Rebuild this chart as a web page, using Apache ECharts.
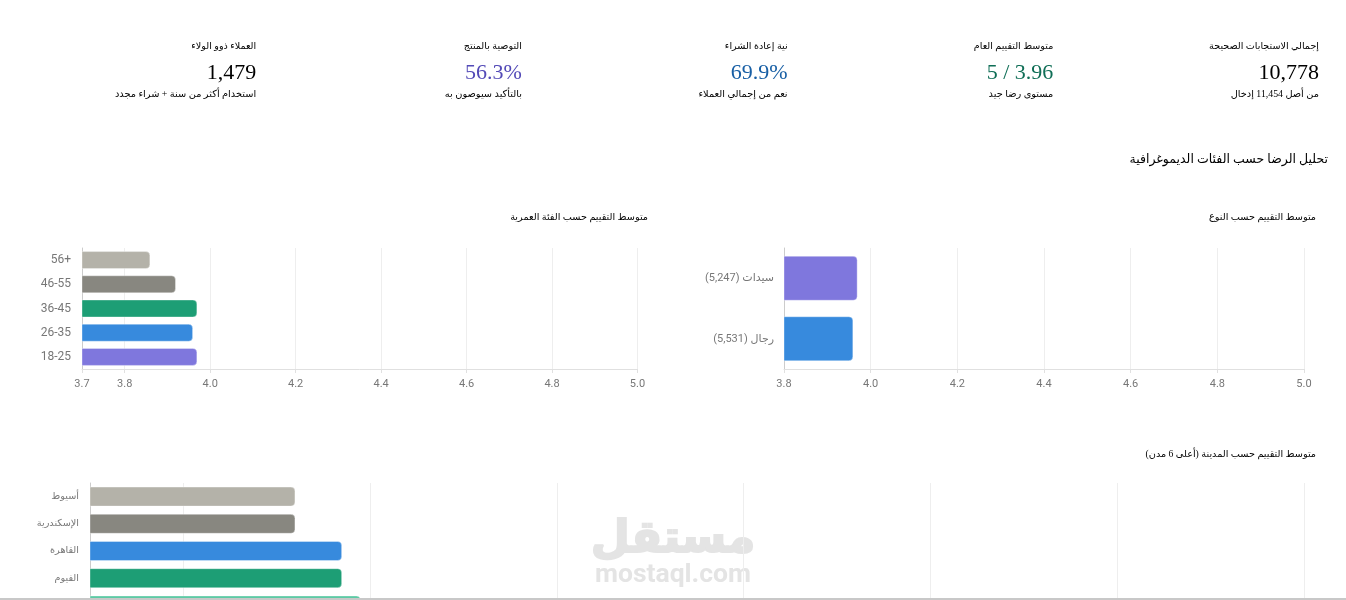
<!DOCTYPE html>
<html dir="rtl">
<head>
<meta charset="utf-8">
<title>تحليل الرضا</title>
<script src="https://cdn.jsdelivr.net/npm/echarts@6/dist/echarts.min.js"></script>
<style>
html, body { margin: 0; padding: 0; background: #fff; overflow: hidden; height: 600px; }
/* taller than the window: the city chart runs past the bottom of the picture */
#main { width: 1346px; height: 660px; }
</style>
</head>
<body>
<div id="main"></div>
<script>
var kpiLabels = ['إجمالي الاستجابات الصحيحة', 'متوسط التقييم العام', 'نية إعادة الشراء', 'التوصية بالمنتج', 'العملاء ذوو الولاء'];
var kpiValues = ['10,778', '3.96 / 5', '69.9%', '56.3%', '1,479'];
var kpiNotes = ['من أصل 11,454 إدخال', 'مستوى رضا جيد', 'نعم من إجمالي العملاء', 'بالتأكيد سيوصون به', 'استخدام أكثر من سنة + شراء مجدد'];
var kpiColors = ['#000000', '#0f6e56', '#185fa5', '#534ab7', '#000000'];

var genderCategories = ['رجال (5,531)', 'سيدات (5,247)'];
var genderValues = [3.96, 3.97];
var genderColors = ['#378add', '#7f77dd'];
var genderTicks = [3.8, 4.0, 4.2, 4.4, 4.6, 4.8, 5.0];

var ageCategories = ['18-25', '26-35', '36-45', '46-55', '+56'];
var ageValues = [3.97, 3.96, 3.97, 3.92, 3.86];
var ageColors = ['#7f77dd', '#378add', '#1d9e75', '#888780', '#b4b2a9'];
var ageTicks = [3.7, 3.8, 4.0, 4.2, 4.4, 4.6, 4.8, 5.0];

// the fifth city is cut off by the bottom of the picture, its name can't be read
var cityCategories = ['', 'الفيوم', 'القاهرة', 'الإسكندرية', 'أسيوط'];
var cityValues = [3.99, 3.97, 3.97, 3.92, 3.92];
var cityColors = ['#5dcaa5', '#1d9e75', '#378add', '#888780', '#b4b2a9'];
var cityTicks = [3.7, 3.8, 4.0, 4.2, 4.4, 4.6, 4.8, 5.0];

var serif = '"Liberation Serif", "DejaVu Sans", serif';
var sans = 'Roboto, "Liberation Sans", "DejaVu Sans", sans-serif';

var chart = echarts.init(document.getElementById('main'), null, { renderer: 'canvas' });

var label = function(text, x, y, size, color) {
	return {
		type: 'text',
		x: x,
		y: y,
		z: 10,
		style: {
			text: text,
			align: 'right',
			verticalAlign: 'middle',
			font: size + 'px ' + serif,
			fill: color || '#000'
		}
	};
};

var graphics = [];
kpiLabels.forEach(function(t, i) {
	var right = 1319 - i * 265.7;
	graphics.push(label(t, right, 46, 9.6));
	graphics.push(label(kpiValues[i], right, 73.5, 22, kpiColors[i]));
	graphics.push(label(kpiNotes[i], right, 94.5, 9.8));
});
graphics.push(label('تحليل الرضا حسب الفئات الديموغرافية', 1328, 160, 12.5));
graphics.push(label('متوسط التقييم حسب النوع', 1316, 217, 9.7));
graphics.push(label('متوسط التقييم حسب الفئة العمرية', 648, 217, 9.7));
graphics.push(label('متوسط التقييم حسب المدينة (أعلى 6 مدن)', 1316, 454, 9.7));

// mostaql watermark
graphics.push({
	type: 'text', x: 673, y: 540, z: 0,
	style: { text: 'مستقل', align: 'center', verticalAlign: 'middle', font: 'bold 45px "DejaVu Sans", sans-serif', fill: '#e4e4e4', stroke: '#e4e4e4', lineWidth: 2 }
});
graphics.push({
	type: 'text', x: 673, y: 575, z: 0,
	style: { text: 'mostaql.com', align: 'center', verticalAlign: 'middle', font: 'bold 26.5px ' + sans, fill: '#e4e4e4' }
});
// window edge at the bottom of the screenshot
graphics.push({
	type: 'rect', z: 20,
	shape: { x: 0, y: 598, width: 1346, height: 2 },
	style: { fill: '#c8c8c8' }
});

var makeXAxis = function(gridIndex, ticks) {
	return {
		type: 'value',
		gridIndex: gridIndex,
		min: ticks[0],
		max: 5,
		axisLine: { show: true, lineStyle: { color: '#e0e0e0', width: 1 } },
		axisTick: { show: true, length: 4, customValues: ticks, lineStyle: { color: '#e0e0e0' } },
		axisLabel: {
			color: '#777',
			fontSize: 11,
			fontFamily: sans,
			margin: 10,
			customValues: ticks,
			formatter: function(v) { return v.toFixed(1); }
		},
		splitLine: { show: true, lineStyle: { color: '#eeeeee', width: 1 } }
	};
};

var makeYAxis = function(gridIndex, cats, size, margin) {
	return {
		type: 'category',
		gridIndex: gridIndex,
		data: cats,
		axisLine: { show: true, onZero: false, lineStyle: { color: '#cccccc', width: 1 } },
		axisTick: { show: false },
		axisLabel: { color: '#777', fontSize: size, fontFamily: sans, margin: margin }
	};
};

var makeSeries = function(index, values, colors, barWidth) {
	return {
		type: 'bar',
		xAxisIndex: index,
		yAxisIndex: index,
		barWidth: barWidth,
		silent: true,
		z: 5,
		data: values.map(function(v, i) {
			return {
				value: v,
				itemStyle: {
					color: colors[i],
					borderColor: 'rgba(255,255,255,0.35)',
					borderWidth: 1,
					borderRadius: [0, 4, 4, 0]
				}
			};
		})
	};
};

chart.setOption({
	animation: false,
	grid: [
		{ left: 784, top: 248, width: 520, height: 121 },
		{ left: 82, top: 248, width: 555.5, height: 121 },
		{ left: 90, top: 483, width: 1214, height: 136 }
	],
	xAxis: [makeXAxis(0, genderTicks), makeXAxis(1, ageTicks), makeXAxis(2, cityTicks)],
	yAxis: [
		makeYAxis(0, genderCategories, 11, 10),
		makeYAxis(1, ageCategories, 12, 11),
		makeYAxis(2, cityCategories, 9.7, 11)
	],
	series: [
		makeSeries(0, genderValues, genderColors, 45),
		makeSeries(1, ageValues, ageColors, 18),
		makeSeries(2, cityValues, cityColors, 20)
	],
	graphic: { elements: graphics }
});
</script>
</body>
</html>
